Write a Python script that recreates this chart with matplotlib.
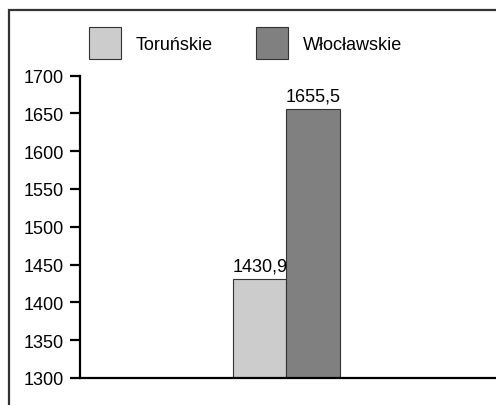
import matplotlib.pyplot as plt
from matplotlib.patches import Rectangle

plt.rcParams['font.family'] = ['Liberation Sans', 'DejaVu Sans']

# dane
series = ["Toruńskie", "Włocławskie"]
values = [1430.9, 1655.5]
colors = ["#cccccc", "#808080"]
yticks = [1300, 1350, 1400, 1450, 1500, 1550, 1600, 1650, 1700]

W, H = 496, 406
FS = 13
fig = plt.figure(figsize=(W / 100, H / 100), dpi=100)
ax = fig.add_axes([80 / W, (H - 379) / H, (495 - 80) / W, (379 - 76.5) / H])

# ramka wokol wykresu
fig.patches.append(Rectangle((8.5 / W, -0.1), 1.2, (H - 10.5) / H + 0.1,
                             transform=fig.transFigure, fill=False,
                             edgecolor="#333333", linewidth=1.6))

width = 0.4
offsets = [-width / 2, width / 2]
for name, val, col, off in zip(series, values, colors, offsets):
    bars = ax.bar(off, val - 1300, width=width, bottom=1300, color=col,
                  edgecolor="#333333", linewidth=0.8, label=name)
    ax.bar_label(bars, labels=[f"{val:.1f}".replace(".", ",")], padding=3,
                 fontsize=FS)

ax.set_xlim(-1.544, 1.559)
ax.set_ylim(1300, 1700)
ax.set_yticks(yticks)
ax.set_xticks([])
ax.tick_params(axis='y', length=7, width=1.6, labelsize=FS, pad=4.5)
for s in ["top", "right"]:
    ax.spines[s].set_visible(False)
ax.spines["left"].set_linewidth(1.6)
ax.spines["bottom"].set_linewidth(1.6)

fig.legend(loc="upper left", bbox_to_anchor=(89 / W, 1 - 28 / H), ncol=2,
           frameon=False, borderpad=0, borderaxespad=0, fontsize=FS,
           handlelength=1.75, handleheight=2.35, handletextpad=0.85,
           columnspacing=2.4)

fig.savefig("out.png", dpi=100)
